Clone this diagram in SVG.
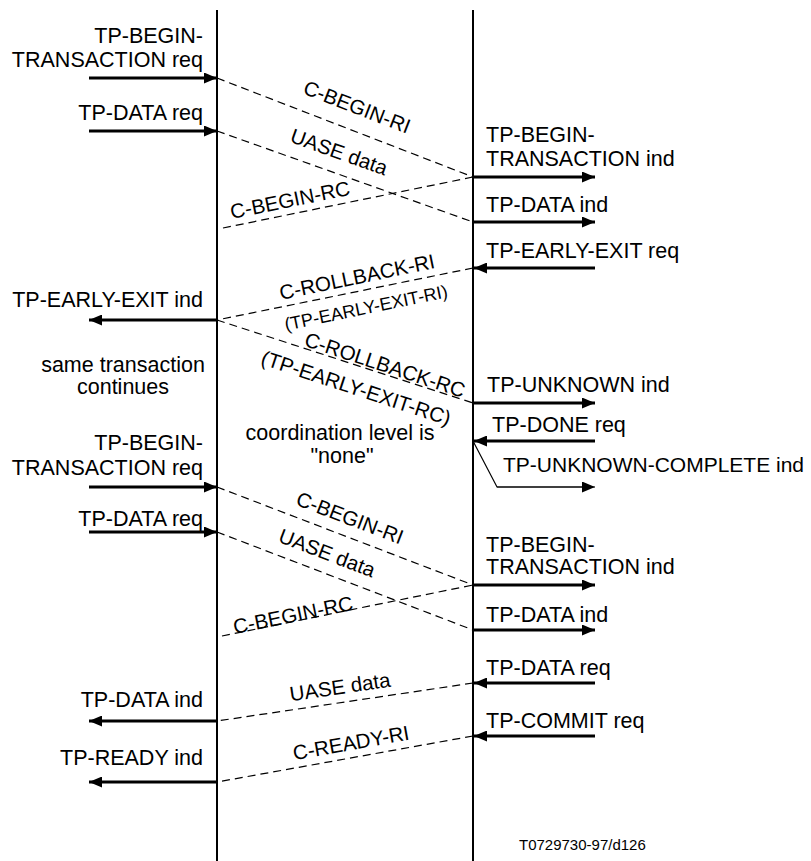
<svg xmlns="http://www.w3.org/2000/svg" width="811" height="861" viewBox="0 0 811 861">
<defs>
<marker id="ah" markerUnits="userSpaceOnUse" markerWidth="14" markerHeight="11" refX="13" refY="5.5" orient="auto">
<path d="M0,0 L13,5.5 L0,11 z" fill="#000"/>
</marker>
<style>
text{font-family:"Liberation Sans",Arial,sans-serif;font-size:21.5px;fill:#000}
.l{text-anchor:end}
.m{text-anchor:middle}
.s{font-size:20.5px;text-anchor:middle}
.ss{font-size:18px;text-anchor:middle}
.life{stroke:#000;stroke-width:2;fill:none}
.prim{stroke:#000;stroke-width:2.8;fill:none;marker-end:url(#ah)}
.thin{stroke:#000;stroke-width:1.2;fill:none}
.pdu{stroke:#000;stroke-width:1.2;fill:none;stroke-dasharray:8 5}
</style>
</defs>
<rect width="811" height="861" fill="#fff"/>
<g id="lifelines">
<line class="life" x1="217" y1="10" x2="217" y2="861"/>
<line class="life" x1="473" y1="10" x2="473" y2="861"/>
</g>
<g id="connectors">
<line class="prim" x1="89" y1="78" x2="217" y2="78"/>
<line class="prim" x1="89" y1="131" x2="217" y2="131"/>
<line class="pdu" x1="217" y1="78" x2="473" y2="177"/>
<line class="pdu" x1="217" y1="131" x2="473" y2="222"/>
<line class="pdu" x1="223" y1="228" x2="473" y2="177"/>
<line class="prim" x1="473" y1="177" x2="595" y2="177"/>
<line class="prim" x1="473" y1="222" x2="595" y2="222"/>
<line class="prim" x1="595" y1="268" x2="474" y2="268"/>
<line class="pdu" x1="473" y1="268" x2="217" y2="320"/>
<line class="prim" x1="217" y1="320" x2="89" y2="320"/>
<line class="pdu" x1="217" y1="320" x2="473" y2="403"/>
<line class="prim" x1="473" y1="403" x2="595" y2="403"/>
<line class="prim" x1="595" y1="441" x2="474" y2="441"/>
<polyline class="thin" points="473,441 497,487 582,487"/>
<line class="thin" x1="497" y1="487" x2="595" y2="487" style="marker-end:url(#ah)"/>
<line class="prim" x1="89" y1="487" x2="217" y2="487"/>
<line class="prim" x1="89" y1="532" x2="217" y2="532"/>
<line class="pdu" x1="217" y1="487" x2="473" y2="585"/>
<line class="pdu" x1="217" y1="532" x2="473" y2="630"/>
<line class="pdu" x1="222" y1="636" x2="473" y2="585"/>
<line class="prim" x1="473" y1="585" x2="595" y2="585"/>
<line class="prim" x1="473" y1="630" x2="595" y2="630"/>
<line class="prim" x1="595" y1="683" x2="474" y2="683"/>
<line class="pdu" x1="473" y1="683" x2="217" y2="721"/>
<line class="prim" x1="217" y1="721" x2="89" y2="721"/>
<line class="prim" x1="595" y1="736" x2="474" y2="736"/>
<line class="pdu" x1="473" y1="736" x2="217" y2="782"/>
<line class="prim" x1="217" y1="782" x2="89" y2="782"/>
</g>
<g id="left-labels">
<text class="l" x="203" y="43">TP-BEGIN-</text>
<text class="l" x="203" y="67">TRANSACTION req</text>
<text class="l" x="203" y="120">TP-DATA req</text>
<text class="l" x="203" y="307">TP-EARLY-EXIT ind</text>
<text class="m" x="123" y="372">same transaction</text>
<text class="m" x="123" y="394">continues</text>
<text class="l" x="203" y="450">TP-BEGIN-</text>
<text class="l" x="203" y="475">TRANSACTION req</text>
<text class="l" x="203" y="526">TP-DATA req</text>
<text class="l" x="203" y="707">TP-DATA ind</text>
<text class="l" x="203" y="765">TP-READY ind</text>
</g>
<g id="right-labels">
<text x="486" y="142">TP-BEGIN-</text>
<text x="486" y="166">TRANSACTION ind</text>
<text x="486" y="212">TP-DATA ind</text>
<text x="486" y="258">TP-EARLY-EXIT req</text>
<text x="487" y="392">TP-UNKNOWN ind</text>
<text x="492" y="432">TP-DONE req</text>
<text x="503" y="472" style="font-size:21px">TP-UNKNOWN-COMPLETE ind</text>
<text x="486" y="552">TP-BEGIN-</text>
<text x="486" y="574">TRANSACTION ind</text>
<text x="486" y="622">TP-DATA ind</text>
<text x="486" y="675">TP-DATA req</text>
<text x="486" y="728">TP-COMMIT req</text>
<text x="519" y="850" style="font-size:15px">T0729730-97/d126</text>
</g>
<g id="middle-labels">
<text class="m" x="340" y="440">coordination level is</text>
<text class="m" x="342" y="463">"none"</text>
<text class="s" transform="translate(357,107) rotate(21.1)" y="7">C-BEGIN-RI</text>
<text class="s" transform="translate(339,152) rotate(19.6)" y="7">UASE data</text>
<text class="s" transform="translate(290,200) rotate(-11.5)" y="7">C-BEGIN-RC</text>
<text class="s" transform="translate(357,277) rotate(-11.7)" y="7">C-ROLLBACK-RI</text>
<text class="ss" transform="translate(366,308) rotate(-11.7)" y="6">(TP-EARLY-EXIT-RI)</text>
<text class="s" transform="translate(385,365) rotate(18.2)" y="7">C-ROLLBACK-RC</text>
<text class="s" transform="translate(356,388) rotate(18.2)" y="7">(TP-EARLY-EXIT-RC)</text>
<text class="s" transform="translate(350,518) rotate(20.9)" y="7">C-BEGIN-RI</text>
<text class="s" transform="translate(327,553) rotate(20.9)" y="7">UASE data</text>
<text class="s" transform="translate(293,615) rotate(-11.5)" y="7">C-BEGIN-RC</text>
<text class="s" transform="translate(340,687) rotate(-8.4)" y="7">UASE data</text>
<text class="s" transform="translate(351,743) rotate(-10.2)" y="7">C-READY-RI</text>
</g>
</svg>
